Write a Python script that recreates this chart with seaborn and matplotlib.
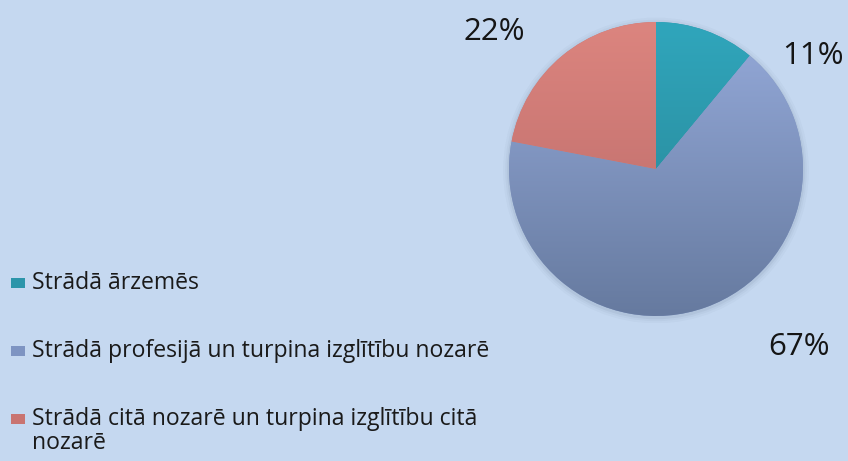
import numpy as np
import matplotlib.pyplot as plt
import matplotlib.patches as mpatches
from matplotlib.colors import LinearSegmentedColormap
import seaborn as sns

# Data
categories = ["Strādā ārzemēs",
              "Strādā profesijā un turpina izglītību nozarē",
              "Strādā citā nozarē un turpina izglītību citā\nnozarē"]
shares = [11, 67, 22]
pct_labels = ["11%", "67%", "22%"]

colors = ["#2C95AA", "#7E94C2", "#C97471"]
# light (top of pie) / dark (bottom of pie) shades for the gradient fill
tops = ["#30A6BC", "#95AADA", "#DC857F"]
bottoms = ["#27808F", "#667A9F", "#B66766"]
bg = "#C5D8F0"

sns.set_theme(style="white")
plt.rcParams['font.family'] = ['Open Sans', 'DejaVu Sans']

fig = plt.figure(figsize=(8.48, 4.61), dpi=100, facecolor=bg)

# Pie axes
ax = fig.add_axes([509 / 848, 1 - 316 / 461, 294 / 848, 294 / 461])
ax.set_facecolor(bg)

# soft shadow around the pie
for r, a in [(1.04, 0.03), (1.025, 0.04), (1.012, 0.06)]:
    ax.add_patch(mpatches.Circle((0, -0.01), r, facecolor="#2a3a55", alpha=a, edgecolor="none"))

wedges, _ = ax.pie(shares, colors=colors, startangle=90, counterclock=False,
                   wedgeprops=dict(linewidth=0))

# vertical gradient inside each wedge
grad = np.linspace(0, 1, 256).reshape(-1, 1)
for w, c_top, c_bot in zip(wedges, tops, bottoms):
    cmap = LinearSegmentedColormap.from_list("g", [c_top, c_bot])
    im = ax.imshow(grad, cmap=cmap, extent=(-1, 1, -1, 1), origin="upper",
                   aspect="auto", zorder=w.get_zorder() + 0.1)
    im.set_clip_path(w)

ax.set_xlim(-1.05, 1.05)
ax.set_ylim(-1.05, 1.05)
ax.set_aspect("equal")
ax.axis("off")
# keep the pie at radius 1 filling the intended box
ax.set_position([509 / 848 - 0.025 * 294 / 848, 1 - 316 / 461 - 0.025 * 294 / 461,
                 294 * 1.05 / 848, 294 * 1.05 / 461])

# Percentage labels (placed like the original chart)
label_pos = [(1.07, 0.77), (0.97, -1.21), (-1.10, 0.93)]
for (lx, ly), txt in zip(label_pos, pct_labels):
    ax.text(lx, ly, txt, ha="center", va="center", fontsize=22.5,
            color="#151515", clip_on=False)

# Legend, drawn manually to keep marker on first line
y0 = 283
step = 68
line_h = 24
for i, (cat, col) in enumerate(zip(categories, colors)):
    y = y0 + i * step
    fig.patches.append(mpatches.Rectangle((11 / 848, 1 - (y + 5) / 461), 14 / 848, 10 / 461,
                                          transform=fig.transFigure, facecolor=col,
                                          edgecolor="none"))
    for j, line in enumerate(cat.split("\n")):
        fig.text(32 / 848, 1 - (y + j * line_h) / 461, line, ha="left", va="center",
                 fontsize=16.6, color="#1a1a1a")

fig.savefig("out.png", dpi=100, facecolor=bg)
